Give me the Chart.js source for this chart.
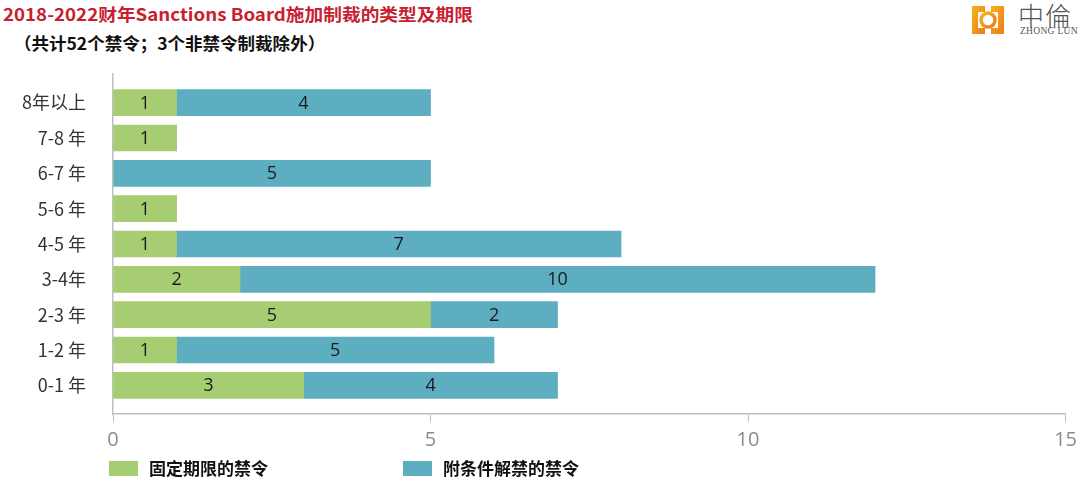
<!DOCTYPE html>
<html lang="zh">
<head>
    <meta charset="UTF-8">
    <title>2018-2022财年Sanctions Board施加制裁的类型及期限</title>
    <script src="https://cdn.jsdelivr.net/npm/chart.js"></script>
    <style>
        html, body { margin: 0; padding: 0; background: #fff; }
        body { width: 1083px; height: 484px; position: relative; overflow: hidden;
               font-family: "Noto Sans CJK SC", "Noto Sans", sans-serif; }
        .title { position: absolute; left: 3px; top: 1px; font-size: 17px; font-weight: bold;
                 color: #c8202f; white-space: nowrap; transform: scaleX(1.1); transform-origin: left top; }
        .subtitle { position: absolute; left: 14px; top: 30px; font-size: 17px; font-weight: bold;
                    color: #111; white-space: nowrap; transform: scaleX(1.03); transform-origin: left top; }
        .logo { position: absolute; left: 970px; top: 4px; }
        .logo-cn { position: absolute; left: 1018px; top: -4px; font-size: 26px; color: #555;
                   font-family: "Noto Sans CJK TC", sans-serif; font-weight: 300; letter-spacing: 1px; }
        .logo-en { position: absolute; left: 1020px; top: 26px; font-size: 9.5px; color: #555;
                   font-family: "Liberation Serif", serif; letter-spacing: 0.3px; }
        .chart-box { position: absolute; left: 0; top: 0; width: 1083px; height: 484px; }
        .legend { position: absolute; top: 459px; font-size: 17px; font-weight: bold; color: #111; }
        .legend span.box { position: absolute; top: 2px; width: 29px; height: 15px; }
        .legend span.txt { position: absolute; left: 40px; top: -4px; white-space: nowrap; }
    </style>
</head>
<body>
    <div class="title">2018-2022财年Sanctions Board施加制裁的类型及期限</div>
    <div class="subtitle">（共计52个禁令；3个非禁令制裁除外）</div>

    <!-- логотип -->
    <svg class="logo" width="36" height="32" viewBox="0 0 36 32">
        <defs>
            <linearGradient id="lg" x1="0" y1="0" x2="1" y2="1">
                <stop offset="0" stop-color="#f7b21a"/>
                <stop offset="1" stop-color="#ee7a1c"/>
            </linearGradient>
        </defs>
        <path d="M2 2 H15 V8 H8 V24 H15 V30 H2 Z" fill="url(#lg)"/>
        <path d="M34 2 H21 V8 H28 V24 H21 V30 H34 Z" fill="url(#lg)"/>
        <circle cx="18" cy="16" r="7" fill="none" stroke="url(#lg)" stroke-width="3.5"/>
    </svg>
    <div class="logo-cn">中倫</div>
    <div class="logo-en">ZHONG LUN</div>

    <div class="chart-box"><canvas id="chart" width="1083" height="484"></canvas></div>

    <div class="legend" style="left:109px"><span class="box" style="background:#a7cd72"></span><span class="txt">固定期限的禁令</span></div>
    <div class="legend" style="left:403px"><span class="box" style="background:#5eaec1"></span><span class="txt">附条件解禁的禁令</span></div>

    <script>
        // Категории (сверху вниз) и значения
        const categories = ['8年以上', '7-8 年', '6-7 年', '5-6 年', '4-5 年', '3-4年', '2-3 年', '1-2 年', '0-1 年'];
        const fixedTerm = [1, 1, 0, 1, 1, 2, 5, 1, 3];
        const conditional = [4, 0, 5, 0, 7, 10, 2, 5, 4];
        const xTicks = [0, 5, 10, 15];
        const seriesNames = ['固定期限的禁令', '附条件解禁的禁令'];

        const toPoints = arr => arr.map((v, i) => ({ x: v, y: i }));

        // Подписи значений внутри столбцов
        const barLabels = {
            id: 'barLabels',
            afterDatasetsDraw(chart) {
                const ctx = chart.ctx;
                ctx.save();
                ctx.font = '18px "Open Sans", "Noto Sans", sans-serif';
                ctx.fillStyle = '#1a1a1a';
                ctx.textAlign = 'center';
                ctx.textBaseline = 'middle';
                chart.data.datasets.forEach((ds, di) => {
                    chart.getDatasetMeta(di).data.forEach((bar, i) => {
                        const v = ds.data[i].x;
                        if (!v) return;
                        const c = bar.getCenterPoint();
                        ctx.fillText(String(v), c.x, c.y + 1);
                    });
                });
                ctx.restore();
            }
        };

        const ctx = document.getElementById('chart').getContext('2d');
        const chart = new Chart(ctx, {
            type: 'bar',
            data: {
                datasets: [{
                    label: seriesNames[0],
                    data: toPoints(fixedTerm),
                    backgroundColor: '#a7cd72',
                    barThickness: 26
                }, {
                    label: seriesNames[1],
                    data: toPoints(conditional),
                    backgroundColor: '#5eaec1',
                    barThickness: 26
                }]
            },
            options: {
                indexAxis: 'y',
                responsive: false,
                animation: false,
                layout: { padding: { top: 74, right: 12, left: 0, bottom: 30 } },
                plugins: { legend: { display: false }, tooltip: { enabled: false } },
                scales: {
                    x: {
                        stacked: true,
                        min: 0, max: 15,
                        afterBuildTicks: s => { s.ticks = xTicks.map(v => ({ value: v })); },
                        afterFit: s => { s.height = 40; },
                        grid: { drawOnChartArea: false, drawTicks: true, tickLength: 8, color: '#bfbfbf' },
                        border: { color: '#bfbfbf', width: 1.5 },
                        ticks: { color: '#8c8c8c', padding: 6,
                                 font: { family: '"Liberation Sans Narrow", "Open Sans", sans-serif', size: 20 } }
                    },
                    y: {
                        type: 'linear',
                        stacked: true,
                        reverse: true,
                        offset: false,
                        min: -0.81, max: 8.81,
                        afterBuildTicks: s => { s.ticks = categories.map((c, i) => ({ value: i })); },
                        afterFit: s => { s.width = 113; },
                        grid: { display: false, drawTicks: false },
                        border: { color: '#bfbfbf', width: 1.5 },
                        ticks: {
                            padding: 27,
                            color: '#333333',
                            font: { family: '"Noto Sans CJK SC", sans-serif', size: 18 },
                            callback: v => categories[v] ?? ''
                        }
                    }
                }
            },
            plugins: [barLabels]
        });
    </script>
</body>
</html>
